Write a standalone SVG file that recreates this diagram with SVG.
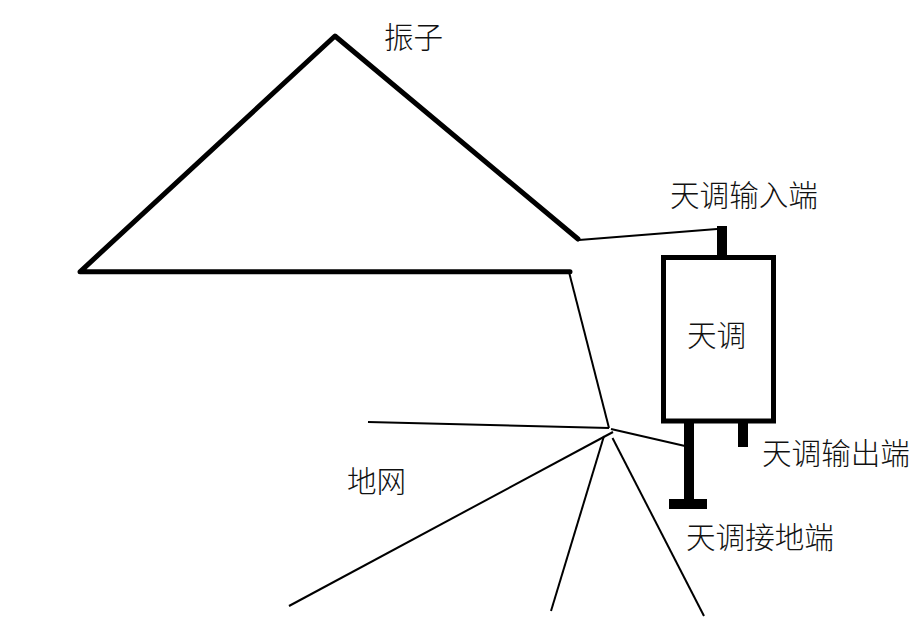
<svg xmlns="http://www.w3.org/2000/svg" width="923" height="635" viewBox="0 0 923 635">
<style>
text{font-family:"Noto Sans CJK SC","Liberation Serif",sans-serif;font-weight:300;font-size:29.6px;fill:#111}
.t{stroke:#000;fill:none;stroke-width:2}
.m{stroke:#000;fill:none;stroke-width:5;stroke-linejoin:round;stroke-linecap:round}
.b{stroke:#000;fill:none;stroke-width:10}
</style>
<rect width="923" height="635" fill="#fff"/>
<g id="connectors">
<path class="t" d="M579 240L717 229"/>
<path class="t" d="M569 272L609 428"/>
<path class="t" d="M368 422L609 428"/>
<path class="t" d="M611 429L685 446"/>
<path class="t" d="M613 432L289 606"/>
<path class="t" d="M604 436L551 611"/>
<path class="t" d="M612.500 438L704 616"/>
</g>
<g id="dipole"><path class="m" d="M570 271.800H80L335 36L578 239"/><text x="384" y="48">振子</text></g>
<g id="tuner"><rect x="663.500" y="257.500" width="110" height="163.500" fill="#fff" stroke="#000" stroke-width="5"/><text x="687" y="346">天调</text></g>
<g id="input"><path class="b" d="M722 226V257"/><text x="670" y="206">天调输入端</text></g>
<g id="output"><path class="b" d="M743 421V447"/><text x="762" y="464">天调输出端</text></g>
<g id="ground"><path class="b" d="M689 421V504M669 504H707"/><text x="686" y="548">天调接地端</text></g>
<g id="net"><text x="347" y="492">地网</text></g>
</svg>
